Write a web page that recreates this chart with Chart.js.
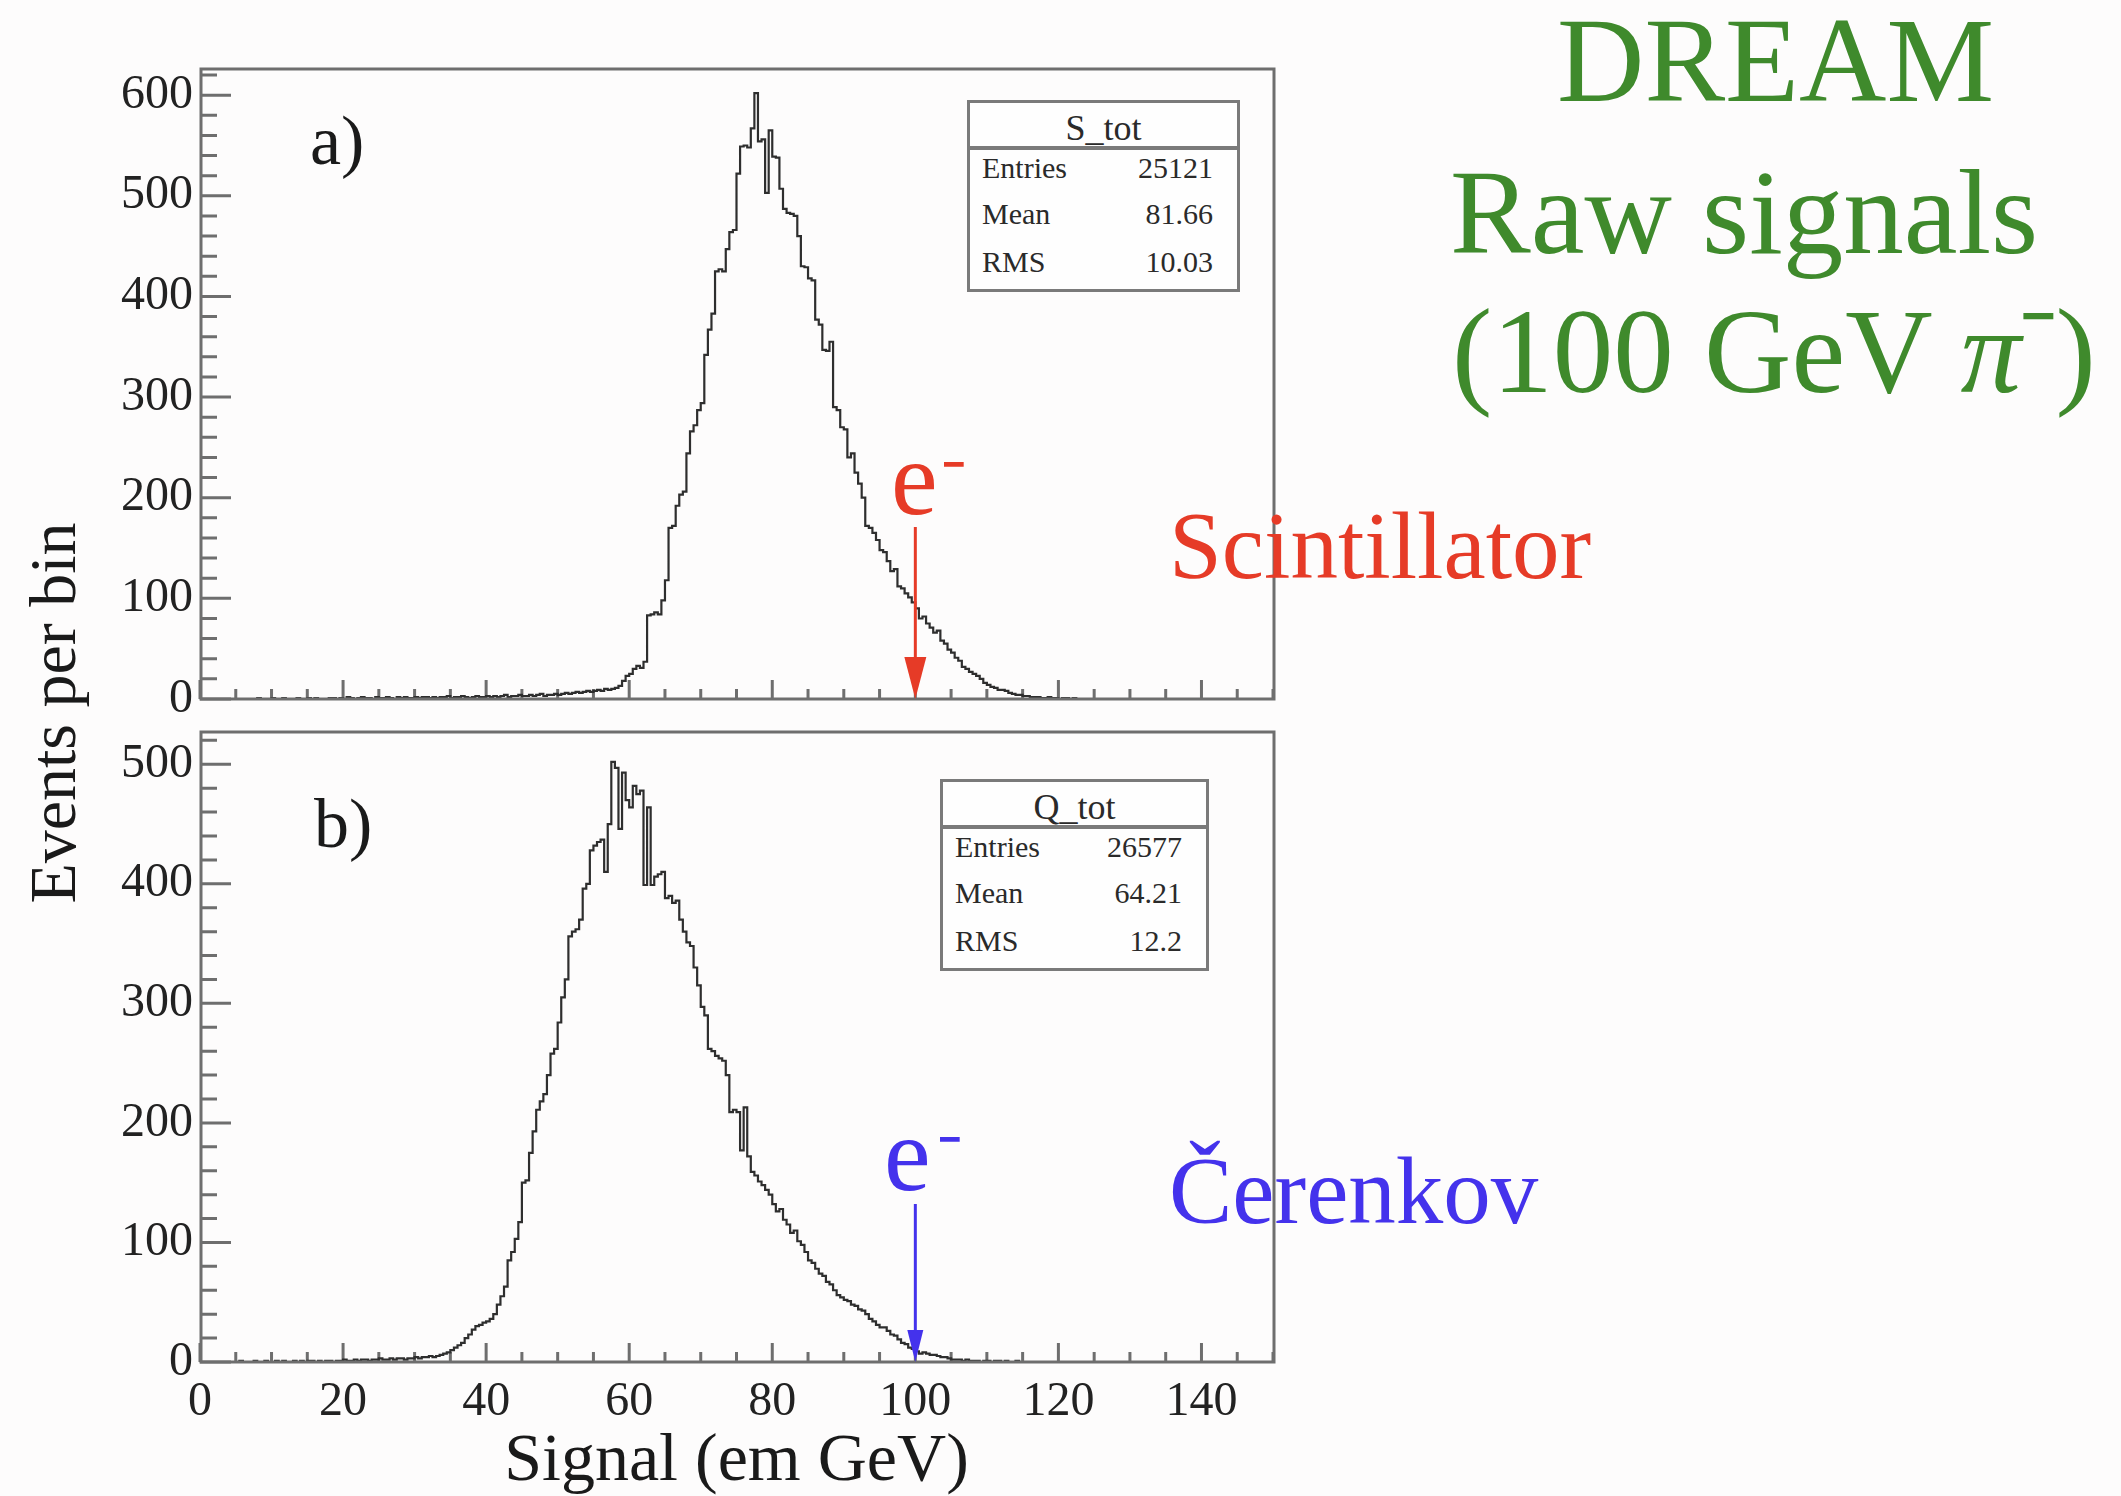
<!DOCTYPE html>
<html>
<head>
<meta charset="utf-8">
<script src="https://cdn.jsdelivr.net/npm/chart.js@4.4.1/dist/chart.umd.min.js"></script>
<style>
  html, body { margin: 0; padding: 0; background: #fdfcfc; }
  body { width: 2121px; height: 1496px; position: relative; overflow: hidden;
         font-family: 'Liberation Serif', 'Times New Roman', serif; }
  canvas { position: absolute; left: 0; }
  #cS { top: 0; }
  #cQ { top: 720px; }
  .t { position: absolute; white-space: nowrap; line-height: 1; }
  .green { color: #3f8a2c; font-size: 121px; }
  .minus { font-weight: bold; -webkit-text-stroke: 2px currentColor; }
  .stats { position: absolute; box-sizing: border-box; height: 192px; border: 3px solid #7a7a7a;
           background: #fefefe; color: #2a2a2a; }
  .stats .hd { position: absolute; left: 0; right: 0; top: 0; height: 43px; border-bottom: 4px solid #7a7a7a;
               text-align: center; font-size: 36px; line-height: 1; }
  .stats .hd span { position: relative; top: 7px; }
  .stats .lab, .stats .val { position: absolute; font-size: 30px; line-height: 1; }
  .stats .lab { left: 12px; }
  .stats .val { right: 24px; }
</style>
</head>
<body>
<canvas id="cS" width="1300" height="712"></canvas>
<canvas id="cQ" width="1300" height="776"></canvas>

<div class="t" id="ytitle" style="left:-197px;top:680px;width:500px;text-align:center;font-size:66px;color:#1a1a1a;transform:rotate(-90deg);">Events per bin</div>

<div class="t" style="left:310px;top:106px;font-size:70px;color:#1a1a1a;">a)</div>
<div class="t" style="left:314px;top:789px;font-size:70px;color:#1a1a1a;">b)</div>

<div class="t green" style="left:1557px;top:0px;">DREAM</div>
<div class="t green" style="left:1450px;top:152px;">Raw signals</div>
<div class="t green" style="left:1452px;top:291px;">(100 GeV <i>π</i><span class="minus" style="font-size:60px;position:relative;top:-56px;">−</span>)</div>

<div class="t" style="left:1169px;top:499px;font-size:95px;color:#e63b27;">Scintillator</div>
<div class="t" style="left:1169px;top:1144px;font-size:95px;color:#4432ec;">Čerenkov</div>

<div class="t" style="left:891px;top:426px;font-size:105px;color:#e63b27;">e</div>
<div class="t minus" style="left:943px;top:445px;font-size:38px;color:#e63b27;">−</div>
<div class="t" style="left:884px;top:1102px;font-size:105px;color:#4432ec;">e</div>
<div class="t minus" style="left:939px;top:1120px;font-size:38px;color:#4432ec;">−</div>

<script>
// ---- histogram contents (bins of 0.5 em GeV) ----
const binWidth = 0.5;
const xMin = 0, xMax = 150;

// scintillator signal S_tot, first bin low edge at 8.0
const sFirstEdge = 8;
const sCounts = [
  0,1,0,0,0,1,0,0,1,0,0,0,1,0,0,1,0,1,0,0,0,1,1,0,
  1,0,2,1,0,1,2,1,1,0,2,1,1,2,1,0,2,1,2,1,
  1,2,1,2,2,1,2,1,2,2,3,1,2,2,3,2,1,2,3,2,
  2,3,2,3,2,3,4,2,3,3,4,3,3,4,3,4,5,3,4,4,
  5,4,5,6,5,6,7,6,7,8,7,8,9,8,10,9,
  10,11,13,18,23,25,30,33,31,37,83,84,86,84,98,118,170,172,192,203,
  206,244,266,272,287,294,342,367,383,425,427,425,447,464,466,522,549,550,548,567,
  602,554,556,503,565,539,538,507,487,483,482,480,460,430,429,418,416,377,372,347,
  346,355,290,287,270,268,240,244,225,214,200,172,170,165,158,148,146,137,127,129,
  112,110,105,101,96,90,80,82,75,71,66,68,58,55,49,46,41,38,32,30,
  27,25,23,20,16,14,12,11,9,9,8,6,5,4,4,3,3,2,2,2,
  1,1,2,1,1,0,1,1,0,1,0
];

// Cerenkov signal Q_tot, first bin low edge at 5.0
const qFirstEdge = 5;
const qCounts = [
  0,0,1,0,0,0,1,0,0,1,0,0,1,0,1,0,0,1,0,1,0,1,1,0,1,0,1,1,0,1,
  1,2,1,1,2,1,2,2,1,2,2,3,2,2,3,2,3,3,2,3,
  3,4,3,4,4,5,4,5,
  6,7,8,10,12,14,16,20,23,27,30,31,33,34,36,40,48,55,63,85,
  92,103,117,150,152,175,193,211,218,224,240,258,262,284,305,320,356,360,362,370,
  396,400,428,432,435,437,410,450,502,497,446,493,470,464,482,475,478,399,464,399,
  406,408,410,388,390,384,386,370,360,351,348,330,315,297,290,262,260,256,254,252,
  240,209,211,209,177,213,172,159,156,151,148,144,140,132,126,128,119,115,108,110,
  101,98,92,85,83,78,74,72,67,65,60,56,54,52,51,48,47,44,43,40,
  36,34,31,29,29,26,23,22,19,16,15,12,11,9,7,8,7,6,6,5,
  4,4,3,2,2,2,1,2,1,1,1,0,1,1,0,1,1,0,1,0,0,1,0
];

// axis ranges and statistics boxes
const sYMax = 626;
const qYMax = 527;
const xTickStep = 20;
const yTickStep = 100;
const electronSignal = 100;   // 100 GeV electrons
const sStats = { name: 'S_tot', entries: '25121', mean: '81.66', rms: '10.03' };
const qStats = { name: 'Q_tot', entries: '26577', mean: '64.21', rms: '12.2' };

const SERIF = "'Liberation Serif', 'Times New Roman', serif";
Chart.defaults.font.family = SERIF;

function histPoints(firstEdge, counts) {
  const pts = [{ x: xMin, y: 0 }];
  counts.forEach((c, i) => pts.push({ x: firstEdge + i * binWidth, y: c }));
  pts.push({ x: firstEdge + counts.length * binWidth, y: 0 });
  pts.push({ x: xMax, y: 0 });
  return pts;
}

// frame, inward ticks and the electron arrow, ROOT style
const rootStyle = {
  id: 'rootStyle',
  beforeDatasetsDraw(chart, args, o) {
    const { ctx, chartArea: a, scales: { x, y } } = chart;
    ctx.save();
    ctx.strokeStyle = '#6e6e6e';
    ctx.lineWidth = 3;
    ctx.beginPath();
    for (let v = xMin; v <= xMax + 1e-9; v += 5) {
      const px = x.getPixelForValue(v);
      const len = v % 20 === 0 ? 19 : 10;
      ctx.moveTo(px, a.bottom); ctx.lineTo(px, a.bottom - len);
    }
    for (let v = 0; v <= y.max + 1e-9; v += 20) {
      const py = y.getPixelForValue(v);
      const len = v % 100 === 0 ? 31 : 17;
      ctx.moveTo(a.left, py); ctx.lineTo(a.left + len, py);
    }
    ctx.stroke();
    ctx.restore();
  },
  afterDatasetsDraw(chart, args, o) {
    const { ctx, chartArea: a, scales: { x, y } } = chart;
    ctx.save();
    ctx.strokeStyle = '#6e6e6e';
    ctx.lineWidth = 3;
    ctx.strokeRect(a.left + 1, a.top, a.right - a.left, a.bottom - a.top);
    // arrow pointing at the electron signal
    const px = x.getPixelForValue(o.arrowAt);
    const tip = y.getPixelForValue(0);
    ctx.strokeStyle = o.arrowColor;
    ctx.fillStyle = o.arrowColor;
    ctx.lineWidth = 3;
    ctx.beginPath();
    ctx.moveTo(px, o.arrowTop);
    ctx.lineTo(px, tip - o.headLen + 2);
    ctx.stroke();
    ctx.beginPath();
    ctx.moveTo(px, tip);
    ctx.lineTo(px - o.headW / 2, tip - o.headLen);
    ctx.lineTo(px + o.headW / 2, tip - o.headLen);
    ctx.closePath();
    ctx.fill();
    ctx.restore();
  }
};

function noEdgePadding(s) {
  s.paddingTop = 0; s.paddingBottom = 0; s.paddingLeft = 0; s.paddingRight = 0;
}

function makeChart(id, points, yMax, opt) {
  return new Chart(document.getElementById(id), {
    type: 'line',
    data: {
      datasets: [{
        data: points,
        stepped: 'after',
        borderColor: '#2e2e2e',
        borderWidth: 2.2,
        pointRadius: 0,
        fill: false,
        tension: 0
      }]
    },
    options: {
      responsive: false,
      animation: false,
      devicePixelRatio: 1,
      events: [],
      layout: { padding: { left: 0, right: 27, top: opt.padTop, bottom: 0 } },
      plugins: {
        legend: { display: false },
        tooltip: { enabled: false },
        rootStyle: opt.arrow
      },
      scales: {
        x: {
          type: 'linear', min: xMin, max: xMax,
          grid: { display: false, drawTicks: false },
          border: { display: false },
          ticks: {
            display: opt.showXLabels, stepSize: xTickStep, includeBounds: false,
            autoSkip: false, maxRotation: 0, padding: 12,
            color: '#222', font: { family: SERIF, size: 48 }
          },
          title: {
            display: opt.showXLabels, text: 'Signal (em GeV)', color: '#1a1a1a',
            font: { family: SERIF, size: 68, lineHeight: 1.0 }, padding: { top: 0, bottom: 0 }
          },
          afterFit(s) { noEdgePadding(s); s.height = opt.xAxisHeight; }
        },
        y: {
          type: 'linear', min: 0, max: yMax,
          grid: { display: false, drawTicks: false },
          border: { display: false },
          ticks: {
            stepSize: yTickStep, includeBounds: false, padding: 7,
            color: '#222', font: { family: SERIF, size: 48 }
          },
          afterFit(s) { noEdgePadding(s); s.width = 200; }
        }
      }
    },
    plugins: [rootStyle]
  });
}

makeChart('cS', histPoints(sFirstEdge, sCounts), sYMax, {
  padTop: 69, xAxisHeight: 13, showXLabels: false,
  arrow: { arrowAt: electronSignal, arrowColor: '#e63b27', arrowTop: 527, headLen: 42, headW: 22 }
});
makeChart('cQ', histPoints(qFirstEdge, qCounts), qYMax, {
  padTop: 12, xAxisHeight: 134, showXLabels: true,
  arrow: { arrowAt: electronSignal, arrowColor: '#4432ec', arrowTop: 484, headLen: 32, headW: 16 }
});

// statistics boxes
function statsBox(st, left, top, width) {
  const d = document.createElement('div');
  d.className = 'stats';
  d.style.left = left + 'px';
  d.style.top = top + 'px';
  d.style.width = width + 'px';
  const rows = [['Entries', st.entries, 50], ['Mean', st.mean, 96], ['RMS', st.rms, 144]];
  let html = '<div class="hd"><span>' + st.name + '</span></div>';
  rows.forEach(r => {
    html += '<span class="lab" style="top:' + r[2] + 'px">' + r[0] + '</span>' +
            '<span class="val" style="top:' + r[2] + 'px">' + r[1] + '</span>';
  });
  d.innerHTML = html;
  document.body.appendChild(d);
}
statsBox(sStats, 967, 100, 273);
statsBox(qStats, 940, 779, 269);
</script>
</body>
</html>
